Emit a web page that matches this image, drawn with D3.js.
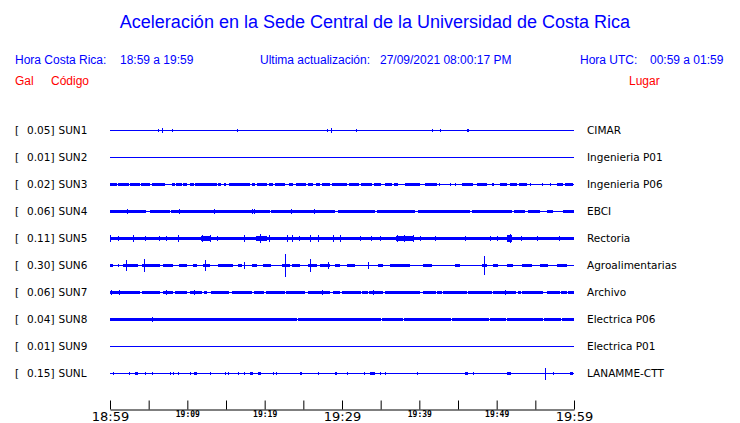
<!DOCTYPE html>
<html><head><meta charset="utf-8">
<script src="https://cdn.jsdelivr.net/npm/d3@7"></script>
<style>
html,body{margin:0;padding:0;background:#fff;}
svg{display:block;}
</style></head>
<body>
<script>
// ---------- DATA ----------
const codes  = ["SUN1","SUN2","SUN3","SUN4","SUN5","SUN6","SUN7","SUN8","SUN9","SUNL"];
const peaks  = ["0.05","0.01","0.02","0.06","0.11","0.30","0.06","0.04","0.01","0.15"];
const places = ["CIMAR","Ingenieria P01","Ingenieria P06","EBCI","Rectoria","Agroalimentarias","Archivo","Electrica P06","Electrica P01","LANAMME-CTT"];
const tickMinutes = [0,5,10,15,20,25,30,35,40,45,50,55,60];
const bigTickMinutes = [0,30,60];
const labelTickMinutes = [0,10,20,30,40,50,60];

// noise bands: [start minute after 18:59, end minute, amplitude Gal]
// spikes: [minute, amplitude Gal]
const sun1Bands = [];
const sun1Spikes = [[4.95,0.012],[6.25,0.025],[6.72,0.05],[8.06,0.02],[16.46,0.02],[28.02,0.02],[28.62,0.045],[31.81,0.02],[41.68,0.02],[42.67,0.028],[46.12,0.02],[46.29,0.02],[54.14,0.012]];
const sun2Bands = [];
const sun2Spikes = [];
const sun3Bands = [[0,0.9,0.02],[1.0,2.4,0.02],[2.6,3.9,0.02],[4.0,5.2,0.02],[5.4,7.1,0.02],[8.0,8.4,0.02],[8.5,9.3,0.02],[9.5,10.0,0.02],[10.3,10.8,0.02],[11.0,13.8,0.02],[14.0,14.4,0.02],[14.8,15.0,0.02],[15.4,18.1,0.02],[18.3,18.8,0.02],[19.0,20.3,0.02],[20.5,21.1,0.02],[21.3,22.6,0.02],[23.1,23.7,0.02],[24.1,25.4,0.02],[25.6,26.3,0.02],[26.7,27.2,0.02],[27.4,28.4,0.02],[28.7,30.7,0.02],[30.9,32.2,0.02],[32.4,33.9,0.02],[34.1,35.1,0.02],[35.6,36.5,0.02],[36.7,37.2,0.02],[38.1,40.1,0.018],[40.7,42.3,0.018],[42.5,42.7,0.018],[44.0,44.15,0.018],[44.6,44.75,0.018],[45.5,46.9,0.018],[47.5,48.8,0.018],[49.4,49.6,0.018],[50.4,51.3,0.018],[51.7,52.6,0.018],[52.9,53.9,0.018],[54.3,54.45,0.018],[55.9,56.05,0.018],[56.9,57.05,0.018],[57.8,58.6,0.018],[58.9,59.9,0.018]];
const sun3Spikes = [];
const sun4Bands = [[0,4.1,0.025],[4.2,4.7,0.025],[5.2,7.8,0.025],[7.9,20.7,0.025],[20.8,29.1,0.025],[29.5,34.3,0.025],[34.5,39.5,0.018],[39.8,46.5,0.018],[46.8,52.0,0.018],[52.3,53.6,0.015],[54.0,55.6,0.015],[56.5,57.3,0.015],[58.6,60,0.015]];
const sun4Spikes = [[2.2,0.05],[3.4,0.03],[8.9,0.045],[12.9,0.03],[13.5,0.05],[18.3,0.055],[18.6,0.05],[23.4,0.055],[26.4,0.06],[28.7,0.035]];
const sun5Bands = [[0,60,0.035],[11.8,13.0,0.05],[18.9,20.3,0.06],[37.0,39.3,0.045],[51.4,52.0,0.07]];
const sun5Spikes = [[0.0,0.07],[1.0,0.06],[3.0,0.07],[4.5,0.06],[6.3,0.06],[7.3,0.06],[8.8,0.07],[11.9,0.08],[12.9,0.08],[13.8,0.06],[17.3,0.07],[19.4,0.11],[20.5,0.07],[22.9,0.09],[23.5,0.08],[24.5,0.06],[25.8,0.07],[26.9,0.08],[28.8,0.08],[29.8,0.09],[32.3,0.06],[33.8,0.06],[34.9,0.06],[37.1,0.07],[38.0,0.07],[38.6,0.06],[39.2,0.07],[40.1,0.06],[42.0,0.06],[45.9,0.06],[49.1,0.06],[50.0,0.06],[51.7,0.11],[53.2,0.06],[55.2,0.06],[58.0,0.06]];
const sun6Bands = [[0,0.4,0.02],[1.7,3.6,0.02],[4.1,6.5,0.02],[6.9,8.1,0.02],[8.9,10.0,0.02],[10.7,11.3,0.02],[12.0,12.9,0.02],[14.0,15.9,0.02],[16.6,17.1,0.02],[18.4,19.0,0.02],[19.8,20.8,0.02],[22.2,23.3,0.02],[23.5,24.6,0.02],[25.6,26.8,0.02],[27.2,28.4,0.02],[29.1,29.7,0.02],[30.6,31.7,0.02],[34.7,35.3,0.02],[36.2,38.8,0.02],[40.5,41.6,0.02],[44.6,45.3,0.02],[48.1,48.8,0.02],[49.5,50.2,0.02],[51.3,52.1,0.02],[53.3,54.6,0.02],[55.6,56.6,0.02],[57.8,59.1,0.02]];
const sun6Spikes = [[1.0,0.04],[2.1,0.14],[4.4,0.16],[6.9,0.04],[12.3,0.13],[17.3,0.08],[22.6,0.30],[23.7,0.04],[25.9,0.16],[28.2,0.08],[33.3,0.08],[48.4,0.24]];
const sun7Bands = [[0,3.9,0.035],[4.2,6.5,0.035],[6.9,8.2,0.035],[8.4,10.0,0.035],[10.3,11.9,0.035],[12.2,12.5,0.035],[13.0,15.4,0.035],[15.8,18.3,0.035],[18.6,19.9,0.035],[20.2,22.2,0.035],[22.3,22.6,0.035],[22.8,25.2,0.035],[25.6,28.4,0.035],[28.9,29.7,0.035],[30.0,32.45,0.032],[32.6,33.35,0.032],[33.5,35.3,0.032],[35.6,40.1,0.032],[40.5,42.15,0.032],[42.3,42.9,0.032],[43.1,46.1,0.032],[46.3,49.35,0.032],[49.5,52.55,0.032],[52.7,53.15,0.032],[53.3,56.0,0.032],[56.5,58.15,0.032],[58.3,59.05,0.032],[59.2,60,0.032]];
const sun7Spikes = [[0.1,0.05],[1.2,0.05],[7.3,0.05],[10.8,0.05],[27.4,0.06],[34.0,0.045],[51.1,0.045]];
const sun8Bands = [[0,24.15,0.04],[24.35,35.05,0.038],[35.2,37.85,0.038],[38.0,44.05,0.038],[44.2,49.05,0.038],[49.2,51.25,0.038],[51.4,55.95,0.038],[56.1,58.35,0.038],[58.5,60,0.038]];
const sun8Spikes = [[5.4,0.045]];
const sun9Bands = [];
const sun9Spikes = [];
const sunLBands = [[3.2,3.6,0.02],[10.9,11.3,0.02],[18.1,18.5,0.02],[19.1,19.5,0.02],[24.6,24.8,0.015],[29.1,29.4,0.02],[33.6,34.3,0.015],[35.6,35.7,0.02],[45.9,46.3,0.02],[51.3,51.8,0.015],[59.5,59.9,0.015]];
const sunLSpikes = [[0.4,0.02],[1.4,0.012],[2.4,0.015],[4.5,0.02],[5.0,0.012],[5.4,0.015],[7.8,0.015],[8.2,0.02],[8.8,0.015],[9.5,0.012],[10.4,0.015],[11.6,0.012],[12.9,0.015],[14.9,0.02],[15.3,0.015],[15.7,0.012],[16.6,0.015],[17.3,0.02],[21.1,0.015],[21.5,0.02],[23.5,0.012],[26.9,0.015],[28.2,0.012],[30.6,0.015],[32.8,0.015],[34.9,0.015],[37.3,0.012],[39.7,0.015],[40.7,0.012],[42.2,0.012],[47.0,0.015],[48.3,0.012],[49.1,0.012],[56.2,0.15],[57.3,0.015],[58.4,0.012]];

const bandLists  = [sun1Bands,sun2Bands,sun3Bands,sun4Bands,sun5Bands,sun6Bands,sun7Bands,sun8Bands,sun9Bands,sunLBands];
const spikeLists = [sun1Spikes,sun2Spikes,sun3Spikes,sun4Spikes,sun5Spikes,sun6Spikes,sun7Spikes,sun8Spikes,sun9Spikes,sunLSpikes];

// ---------- CHART ----------
const W = 740, H = 423;
const BLUE = "#0000ff", RED = "#ff0000";
const t0 = new Date(2021, 8, 27, 18, 59);
const toDate = m => new Date(t0.getTime() + m * 60000);

const svg = d3.select("body").append("svg").attr("width", W).attr("height", H)
  .style("font-family", "'Liberation Sans', Arial, sans-serif");

const x = d3.scaleTime().domain([toDate(0), toDate(60)]).range([110, 574]);
const y = d3.scalePoint().domain(codes).range([130, 373]);
const amp = d3.scaleLinear().domain([0, 0.3]).range([0, 11]);

// header
svg.append("text").attr("x", 375).attr("y", 28).attr("text-anchor", "middle")
  .attr("font-size", 18).attr("fill", BLUE)
  .text("Aceleración en la Sede Central de la Universidad de Costa Rica");
const hdr = [
  [15, "Hora Costa Rica:"], [120, "18:59 a 19:59"],
  [260, "Ultima actualización:"], [380, "27/09/2021 08:00:17 PM"],
  [580, "Hora UTC:"], [650, "00:59 a 01:59"]
];
svg.append("g").selectAll("text").data(hdr).join("text")
  .attr("x", d => d[0]).attr("y", 64).attr("font-size", 12).attr("fill", BLUE).text(d => d[1]);
const hdr2 = [[15, "Gal"], [51, "Código"], [629, "Lugar"]];
svg.append("g").selectAll("text").data(hdr2).join("text")
  .attr("x", d => d[0]).attr("y", 85).attr("font-size", 12).attr("fill", RED).text(d => d[1]);

// rows
const rows = codes.map((c, i) => ({code: c, peak: peaks[i], place: places[i], bands: bandLists[i], spikes: spikeLists[i]}));
const row = svg.append("g").selectAll("g").data(rows).join("g")
  .attr("transform", d => `translate(0,${y(d.code)})`);

const lab = row.append("g").attr("font-family", "'DejaVu Sans', sans-serif").attr("font-size", 10.5).attr("fill", "#000");
lab.append("text").attr("x", 15).attr("y", 4).text("[");
lab.append("text").attr("x", 54.5).attr("y", 4).attr("text-anchor", "end").text(d => d.peak + "]");
lab.append("text").attr("x", 58.5).attr("y", 4).text(d => d.code);
lab.append("text").attr("x", 587).attr("y", 4).text(d => d.place);

const tr = row.append("g").attr("fill", BLUE).attr("shape-rendering", "crispEdges");
tr.append("rect").attr("x", x(toDate(0))).attr("y", 0)
  .attr("width", x(toDate(60)) - x(toDate(0))).attr("height", 1);
tr.selectAll("rect.band").data(d => d.bands).join("rect").attr("class", "band")
  .attr("x", d => x(toDate(d[0])))
  .attr("width", d => Math.max(1, x(toDate(d[1])) - x(toDate(d[0]))))
  .attr("y", d => 0.5 - amp(d[2]) - 0.5)
  .attr("height", d => 2 * amp(d[2]) + 1);
tr.selectAll("rect.spike").data(d => d.spikes).join("rect").attr("class", "spike")
  .attr("x", d => Math.round(x(toDate(d[0]))))
  .attr("width", 1)
  .attr("y", d => 0.5 - amp(d[1]) - 0.5)
  .attr("height", d => 2 * amp(d[1]) + 1);

// axis
const fmt = d3.timeFormat("%H:%M");
const axis = d3.axisBottom(x)
  .tickValues(tickMinutes.map(toDate))
  .tickSizeInner(-9).tickSizeOuter(0).tickPadding(2)
  .tickFormat(d => {
    const m = Math.round((d - t0) / 60000);
    return labelTickMinutes.includes(m) ? fmt(d) : "";
  });
const ax = svg.append("g").attr("transform", "translate(0,409.5)").call(axis);
ax.select(".domain").attr("stroke", "#000");
ax.selectAll(".tick line").attr("stroke", "#000");
ax.selectAll(".tick text").attr("fill", "#000")
  .each(function(d) {
    const m = Math.round((d - t0) / 60000);
    const big = bigTickMinutes.includes(m);
    d3.select(this)
      .attr("font-family", big ? "'DejaVu Sans', sans-serif" : "'DejaVu Sans Mono', monospace")
      .attr("font-size", big ? 13 : 8)
      .attr("font-weight", big ? "normal" : "bold");
  });
</script>
</body></html>
